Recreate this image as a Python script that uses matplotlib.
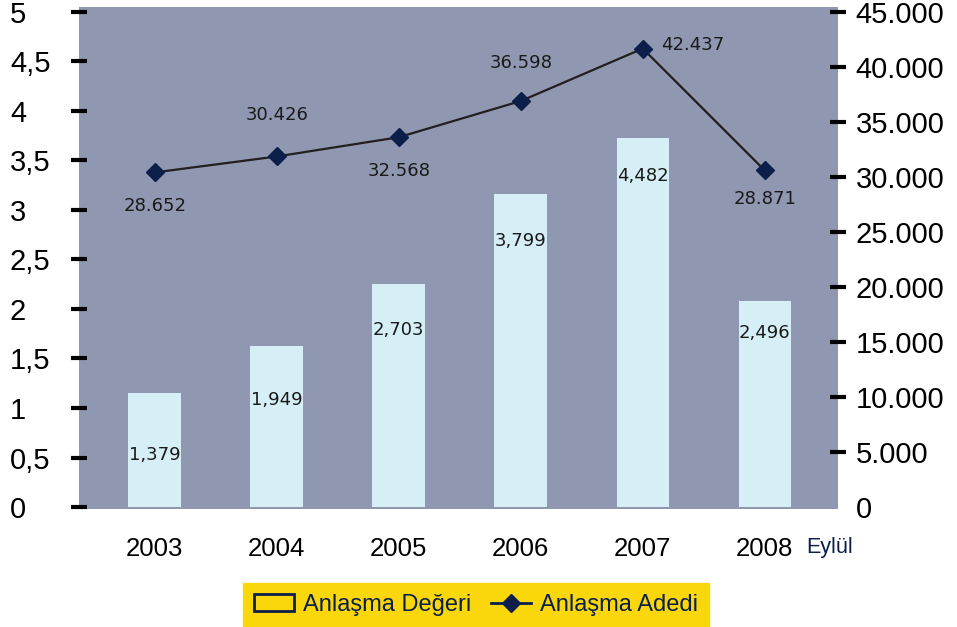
import matplotlib
matplotlib.use("Agg")
import matplotlib.pyplot as plt
from matplotlib.patches import Patch
from matplotlib.lines import Line2D

# Veriler
years = ["2003", "2004", "2005", "2006", "2007", "2008"]
deger = [1.379, 1.949, 2.703, 3.799, 4.482, 2.496]          # Anlaşma Değeri
adet = [28652, 30426, 32568, 36598, 42437, 28871]           # Anlaşma Adedi
deger_labels = ["1,379", "1,949", "2,703", "3,799", "4,482", "2,496"]
adet_labels = ["28.652", "30.426", "32.568", "36.598", "42.437", "28.871"]
left_ticks = [0, 0.5, 1, 1.5, 2, 2.5, 3, 3.5, 4, 4.5, 5]
left_tick_labels = ["0", "0,5", "1", "1,5", "2", "2,5", "3", "3,5", "4", "4,5", "5"]
right_ticks = [0, 5000, 10000, 15000, 20000, 25000, 30000, 35000, 40000, 45000]
right_tick_labels = ["0", "5.000", "10.000", "15.000", "20.000", "25.000",
                     "30.000", "35.000", "40.000", "45.000"]

# Etiket konumları (yerleşim)
bar_label_y = [0.63, 1.30, 2.15, 3.23, 4.02, 2.11]
line_label_off = [(0, -34), (0, 41), (0, -34), (0, 38), (50, 4), (0, -29)]

BG = "#8F98B0"
BAR = "#D6EFF6"
NAVY = "#0B1F4A"
YELLOW = "#F9D70B"
num_font = ["Liberation Sans", "DejaVu Sans"]
lbl_font = ["DejaVu Sans"]
narrow_font = ["Liberation Sans Narrow", "Liberation Sans", "DejaVu Sans"]

fig = plt.figure(figsize=(9.57, 6.27), dpi=100)
W, H = 957, 627
rect = [79 / W, (H - 509) / H, 759 / W, 502 / H]

# görünen eksen (sol ve sağ tick'ler)
ax = fig.add_axes(rect)
ax.set_facecolor(BG)
x = list(range(len(years)))
ax.set_xlim(-0.62, 5.6)
ax.set_ylim(-0.02, 5.05)
for s in ax.spines.values():
    s.set_visible(False)
ax.set_yticks(left_ticks)
ax.set_yticklabels(left_tick_labels, fontsize=21, family=num_font)
ax.tick_params(axis="y", direction="inout", length=11.5, width=3, pad=44)
for lab in ax.get_yticklabels():
    lab.set_horizontalalignment("left")
ax.yaxis.get_major_ticks()[0].tick1line.set_visible(False)
ax.set_xticks(x)
ax.set_xticklabels(years, fontsize=18.5, family=num_font)
ax.tick_params(axis="x", length=0, pad=20)

axr = ax.twinx()
axr.set_ylim(-182, 45455)
for s in axr.spines.values():
    s.set_visible(False)
axr.set_yticks(right_ticks)
axr.set_yticklabels(right_tick_labels, fontsize=21, family=num_font)
axr.tick_params(axis="y", direction="inout", length=11.5, width=3, pad=7)
axr.yaxis.get_major_ticks()[0].tick2line.set_visible(False)

# çubuklar
axb = fig.add_axes(rect, sharex=ax)
axb.set_ylim(-0.024, 6.07)
axb.axis("off")
axb.bar(x, deger, width=0.43, color=BAR, zorder=2)
for xi, yl, t in zip(x, bar_label_y, deger_labels):
    axb.text(xi, yl, t, ha="center", va="center", fontsize=13,
             family=lbl_font, color="#1a1a1a")

# çizgi
axl = fig.add_axes(rect, sharex=ax)
axl.set_ylim(-8803, 47062)
axl.axis("off")
axl.plot(x, adet, color="#231F20", lw=1.6, marker="D", markersize=9,
         markerfacecolor=NAVY, markeredgecolor=NAVY, zorder=3)
for xi, v, t, off in zip(x, adet, adet_labels, line_label_off):
    axl.annotate(t, (xi, v), xytext=(off[0] * 0.72, off[1] * 0.72),
                 textcoords="offset points", ha="center", va="center",
                 fontsize=13, family=lbl_font, color="#1a1a1a")

fig.text(806 / W, 1 - 547 / H, "Eylül", ha="left", va="center",
         fontsize=15.5, family=narrow_font, color=NAVY)

handles = [Patch(facecolor="none", edgecolor=NAVY, lw=2),
           Line2D([], [], color=NAVY, lw=2, marker="D", markersize=9)]
leg = fig.legend(handles, ["Anlaşma Değeri", "Anlaşma Adedi"], loc="center",
                 bbox_to_anchor=(476 / W, 1 - 605 / H), ncol=2, frameon=True,
                 fancybox=False, facecolor=YELLOW, edgecolor=YELLOW,
                 framealpha=1, prop={"family": narrow_font, "size": 17},
                 handlelength=1.7, handletextpad=0.4, columnspacing=0.8,
                 borderpad=0.45, borderaxespad=0)
for t in leg.get_texts():
    t.set_color(NAVY)

fig.savefig("out.png", dpi=100)
